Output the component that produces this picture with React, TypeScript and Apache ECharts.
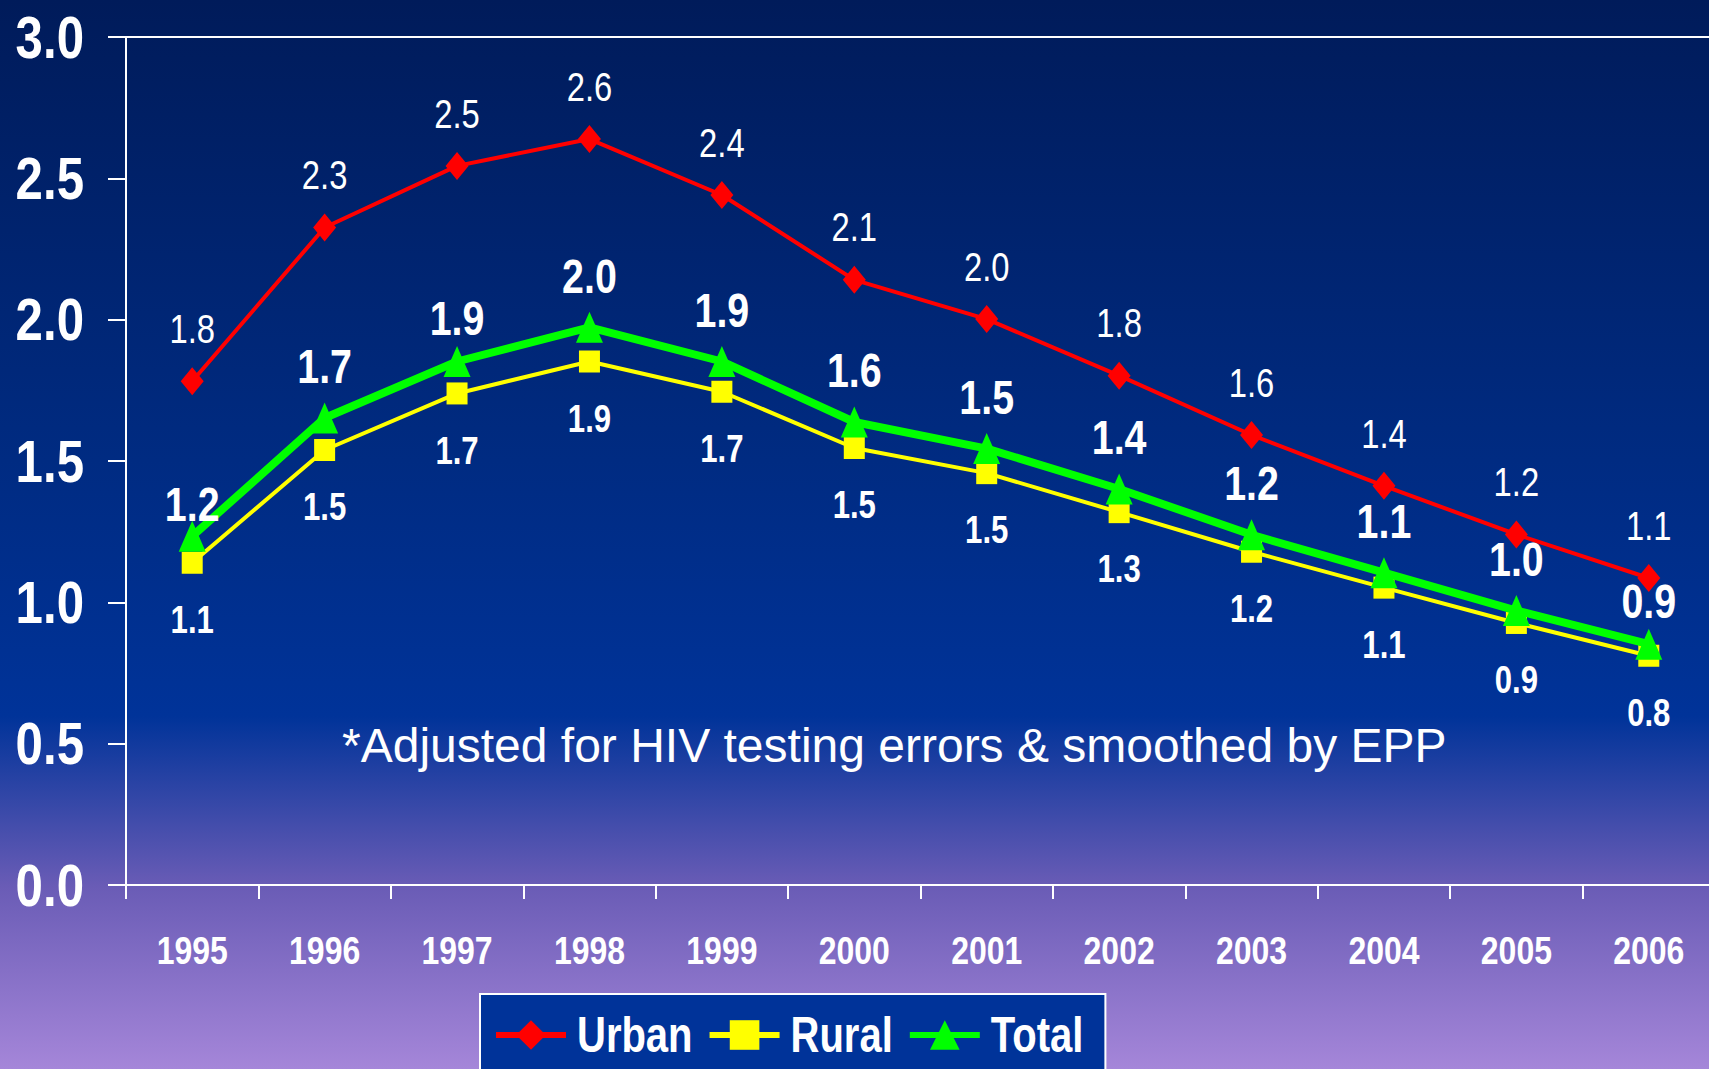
import React, { useEffect, useRef } from "react";
import * as echarts from "echarts";

const years = ["1995", "1996", "1997", "1998", "1999", "2000", "2001", "2002", "2003", "2004", "2005", "2006"];
const urban = [1.782, 2.326, 2.544, 2.639, 2.441, 2.141, 2.002, 1.802, 1.592, 1.412, 1.24, 1.086];
const rural = [1.14, 1.539, 1.739, 1.852, 1.745, 1.546, 1.457, 1.319, 1.179, 1.052, 0.927, 0.811];
const total = [1.234, 1.652, 1.852, 1.973, 1.852, 1.638, 1.544, 1.401, 1.239, 1.105, 0.971, 0.852];
const seriesNames = ["Urban", "Rural", "Total"];
const note = "*Adjusted for HIV testing errors & smoothed by EPP";

const SANS = "'Liberation Sans', Arial, sans-serif";
const NARROW_SCALE = 0.82;
const LEGEND_STRETCH = 1.25;
const fmt = (p: any) => Number(p.value).toFixed(1);

export default function App() {
  const ref = useRef<HTMLDivElement>(null);
  useEffect(() => {
    if (!ref.current) return;
    const chart = echarts.init(ref.current, null, { renderer: "svg" });

    // Emulate the condensed (Arial Narrow) face: squeeze texts horizontally,
    // or (legend, whose layout uses natural widths) stretch them vertically.
    const narrowize = () => {
      const root = ref.current;
      if (!root) return;
      root.querySelectorAll("svg text").forEach((el) => {
        const txt = el.textContent || "";
        if (txt === note) return;
        const cur = el.getAttribute("transform") || "";
        if (el.getAttribute("data-nt") === cur && cur.indexOf("scale(") >= 0) return;
        const x = el.getAttribute("x") || "0";
        const y = el.getAttribute("y") || "0";
        el.setAttribute("x", "0");
        el.setAttribute("y", "0");
        const sc = seriesNames.indexOf(txt) >= 0 ? `scale(1 ${LEGEND_STRETCH})` : `scale(${NARROW_SCALE} 1)`;
        const t = `${cur} translate(${x} ${y}) ${sc}`.trim();
        el.setAttribute("transform", t);
        el.setAttribute("data-nt", t);
      });
    };

    const totalNudge: Record<number, number> = { 0: -7, 2: 4, 11: 4 };

    chart.on("finished", narrowize);
    chart.setOption({
      animation: false,
      backgroundColor: "transparent",
      grid: {
        left: 126,
        right: -6,
        top: 37,
        bottom: 184,
        outerBoundsMode: "none",
        containLabel: false,
        show: true,
        borderColor: "#ffffff",
        borderWidth: 2,
        backgroundColor: "transparent",
      },
      xAxis: {
        type: "category",
        data: years,
        boundaryGap: true,
        axisLine: { lineStyle: { color: "#ffffff", width: 2 } },
        axisTick: { show: true, length: 14, lineStyle: { color: "#ffffff", width: 2 } },
        axisLabel: {
          color: "#ffffff",
          fontSize: 39,
          fontWeight: "bold",
          fontFamily: SANS,
          margin: 46,
        },
      },
      yAxis: {
        type: "value",
        min: 0,
        max: 3,
        interval: 0.5,
        axisLine: { show: true, lineStyle: { color: "#ffffff", width: 2 } },
        axisTick: { show: true, length: 18, lineStyle: { color: "#ffffff", width: 2 } },
        splitLine: { show: false },
        axisLabel: {
          color: "#ffffff",
          fontSize: 60,
          fontWeight: "bold",
          fontFamily: SANS,
          margin: 42,
          formatter: (v: number) => v.toFixed(1),
        },
      },
      legend: {
        data: seriesNames,
        left: 480,
        top: 994,
        orient: "horizontal",
        backgroundColor: "#003399",
        borderColor: "#ffffff",
        borderWidth: 2,
        borderRadius: 0,
        padding: [21, 22, 40, 13],
        itemWidth: 70,
        itemHeight: 37,
        itemGap: 14,
        lineStyle: { width: 6 },
        textStyle: {
          color: "#ffffff",
          fontSize: 40,
          fontWeight: "bold",
          fontFamily: SANS,
          padding: [0, 0, 0, 6],
        },
      },
      graphic: [
        {
          type: "text",
          x: 342,
          y: 745,
          silent: true,
          style: {
            text: note,
            fill: "#ffffff",
            font: "normal 48px 'Liberation Sans', Arial, sans-serif",
            verticalAlign: "middle",
            align: "left",
          },
        },
      ],
      series: [
        {
          name: seriesNames[0],
          type: "line",
          data: urban,
          color: "#ff0000",
          lineStyle: { color: "#ff0000", width: 4 },
          itemStyle: { color: "#ff0000" },
          symbol: "diamond",
          symbolSize: [23, 28],
          z: 2,
          label: {
            show: true,
            position: "top",
            distance: 18,
            color: "#ffffff",
            fontSize: 40,
            fontWeight: "normal",
            fontFamily: SANS,
            formatter: fmt,
          },
        },
        {
          name: seriesNames[1],
          type: "line",
          data: rural,
          color: "#ffff00",
          lineStyle: { color: "#ffff00", width: 4 },
          itemStyle: { color: "#ffff00" },
          symbol: "rect",
          symbolSize: [21, 22],
          z: 3,
          label: {
            show: true,
            position: "bottom",
            distance: 27,
            color: "#ffffff",
            fontSize: 38,
            fontWeight: "bold",
            fontFamily: SANS,
            formatter: fmt,
          },
        },
        {
          name: seriesNames[2],
          type: "line",
          data: total.map((v, i) =>
            totalNudge[i] !== undefined ? { value: v, label: { distance: totalNudge[i] } } : v
          ),
          color: "#00ff00",
          lineStyle: { color: "#00ff00", width: 8 },
          itemStyle: { color: "#00ff00" },
          symbol: "triangle",
          symbolSize: [27, 31],
          z: 4,
          label: {
            show: true,
            position: "top",
            distance: 12,
            color: "#ffffff",
            fontSize: 48,
            fontWeight: "bold",
            fontFamily: SANS,
            formatter: fmt,
          },
        },
      ],
    });
    narrowize();
    const raf = requestAnimationFrame(narrowize);
    const tm = setTimeout(narrowize, 60);
    return () => {
      cancelAnimationFrame(raf);
      clearTimeout(tm);
      chart.dispose();
    };
  }, []);

  return (
    <div
      style={{
        position: "absolute",
        left: 0,
        top: 0,
        width: 1709,
        height: 1069,
        overflow: "hidden",
        background:
          "linear-gradient(to bottom, #001b5a 0%, #002a7f 40%, #003399 67%, #6a5cb6 83%, #a586d9 100%)",
      }}
    >
      <div ref={ref} style={{ width: 1709, height: 1069 }} />
    </div>
  );
}
